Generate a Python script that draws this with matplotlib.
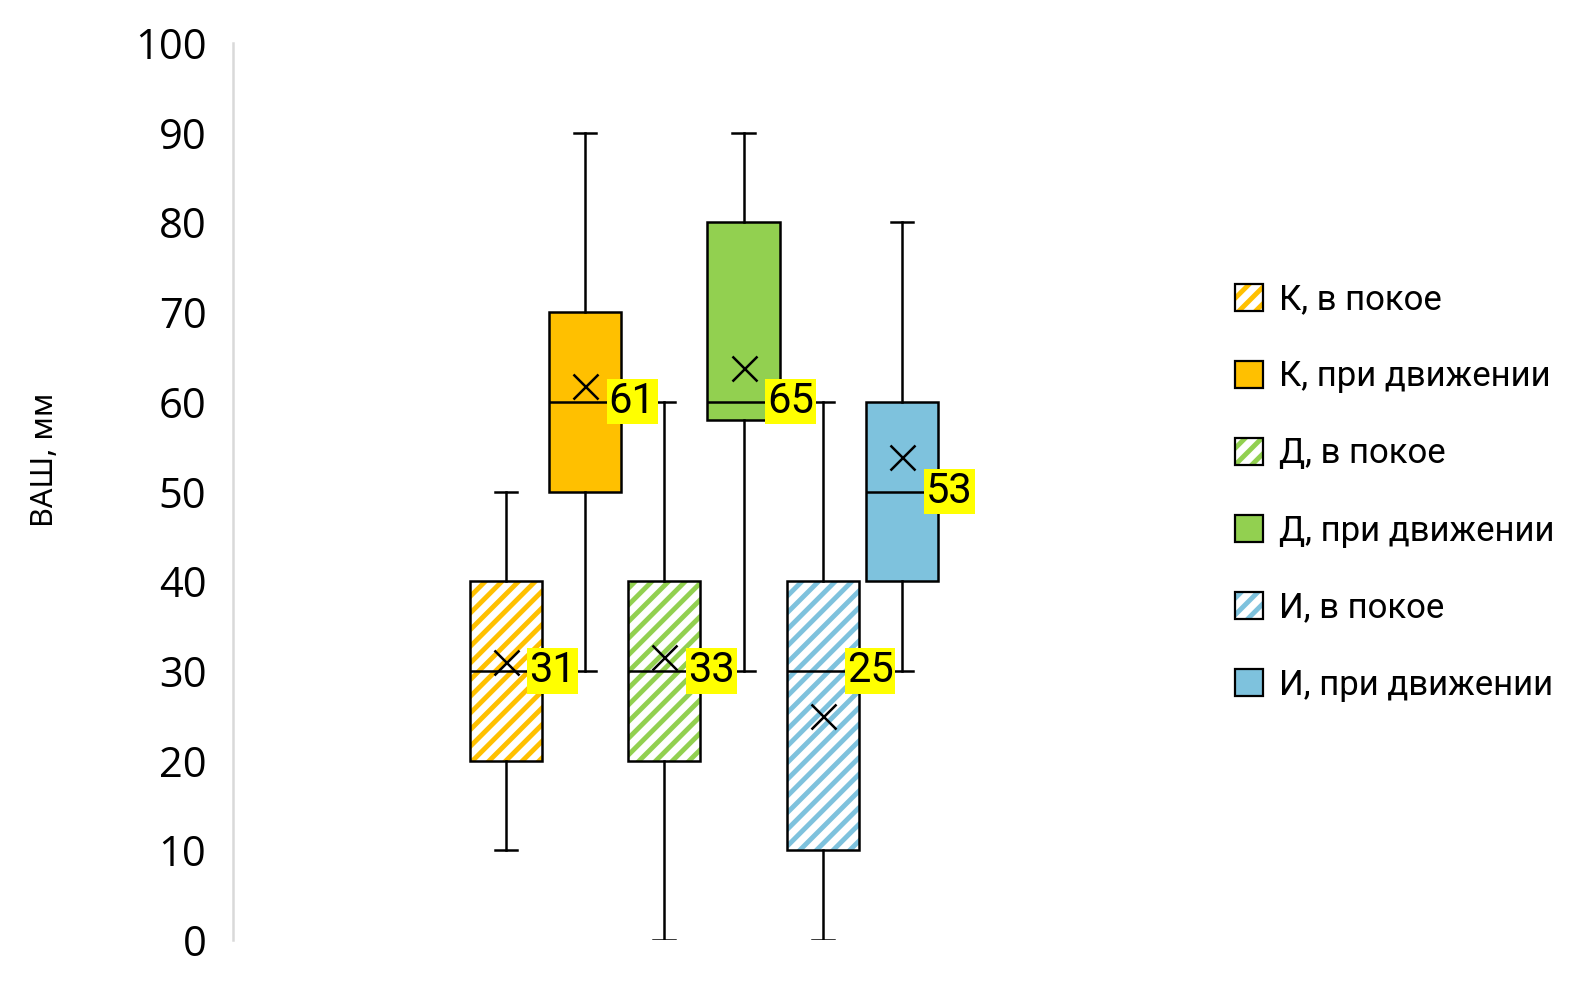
import matplotlib
matplotlib.use("Agg")
import matplotlib.pyplot as plt
from matplotlib.patches import Patch

plt.rcParams['hatch.linewidth'] = 3.5

# ВАШ, мм по группам
groups = ['К, в покое', 'К, при движении', 'Д, в покое', 'Д, при движении',
          'И, в покое', 'И, при движении']
whislo = [10, 30, 0, 30, 0, 30]
q1 = [20, 50, 20, 58, 10, 40]
med = [30, 60, 30, 60, 30, 50]
q3 = [40, 70, 40, 80, 40, 60]
whishi = [50, 90, 60, 90, 60, 80]
means = [31, 61.8, 31.5, 63.8, 25, 53.8]
labels = [31, 61, 33, 65, 25, 53]
colors = ['#FFC000', '#FFC000', '#92D050', '#92D050', '#7EC2DD', '#7EC2DD']
hatched = [True, False, True, False, True, False]

narrow = ['Roboto', 'DejaVu Sans']

fig = plt.figure(figsize=(15.73, 9.83), dpi=100)
ax = fig.add_axes([0.148, 0.0437, 0.602, 0.9126])

stats = []
for i in range(len(groups)):
    stats.append({'whislo': whislo[i], 'q1': q1[i], 'med': med[i], 'q3': q3[i],
                  'whishi': whishi[i], 'mean': means[i], 'fliers': []})

pos = list(range(1, len(groups) + 1))
bp = ax.bxp(stats, positions=pos, widths=0.91, capwidths=0.28, patch_artist=True,
            showmeans=True, showfliers=False,
            boxprops=dict(linewidth=1.8, edgecolor='black'),
            whiskerprops=dict(linewidth=1.8, color='black'),
            capprops=dict(linewidth=1.8, color='black'),
            medianprops=dict(linewidth=1.8, color='black'),
            meanprops=dict(marker='x', markersize=18, markeredgewidth=1.8,
                           markeredgecolor='black'))

for i, box in enumerate(bp['boxes']):
    if hatched[i]:
        hp = plt.Polygon(box.get_path().vertices, closed=True, facecolor='white',
                         edgecolor=colors[i], hatch='//', linewidth=0, zorder=1.9)
        ax.add_patch(hp)
        box.set_facecolor('none')
        box.set_zorder(2.1)
    else:
        box.set_facecolor(colors[i])

for i in range(len(groups)):
    ax.text(pos[i] + 0.3, med[i], str(labels[i]), ha='left', va='center',
            fontsize=30, family=narrow, zorder=5,
            bbox=dict(facecolor='#FFFF00', edgecolor='none', pad=1.5))

ax.set_xlim(-2.44, 9.5)
ax.set_ylim(0, 100)
ax.set_yticks(range(0, 101, 10))
ax.tick_params(axis='y', length=0, pad=19, labelsize=30)
for t in ax.get_yticklabels():
    t.set_family('Open Sans')
ax.set_xticks([])
for s in ['top', 'right', 'bottom']:
    ax.spines[s].set_visible(False)
ax.spines['left'].set_color('#D9D9D9')
ax.spines['left'].set_linewidth(1.8)

fig.text(45 / 1573, 1 - 460 / 983, 'ВАШ, мм', rotation=90, ha='center', va='center',
         fontsize=22, family=['Noto Sans', 'DejaVu Sans'])

handles = []
for i in range(len(groups)):
    if hatched[i]:
        h1 = Patch(facecolor='white', edgecolor=colors[i], hatch='//', linewidth=0)
        h2 = Patch(facecolor='none', edgecolor='black', linewidth=1.6)
        handles.append((h1, h2))
    else:
        handles.append(Patch(facecolor=colors[i], edgecolor='black', linewidth=1.6))

fig.legend(handles, groups, loc='center left', bbox_to_anchor=(0.776, 0.499),
           borderaxespad=0, frameon=False, prop={'family': narrow, 'size': 25},
           handlelength=0.82, handleheight=0.82, handletextpad=0.45, labelspacing=1.27)

fig.savefig('out.png', dpi=100)
